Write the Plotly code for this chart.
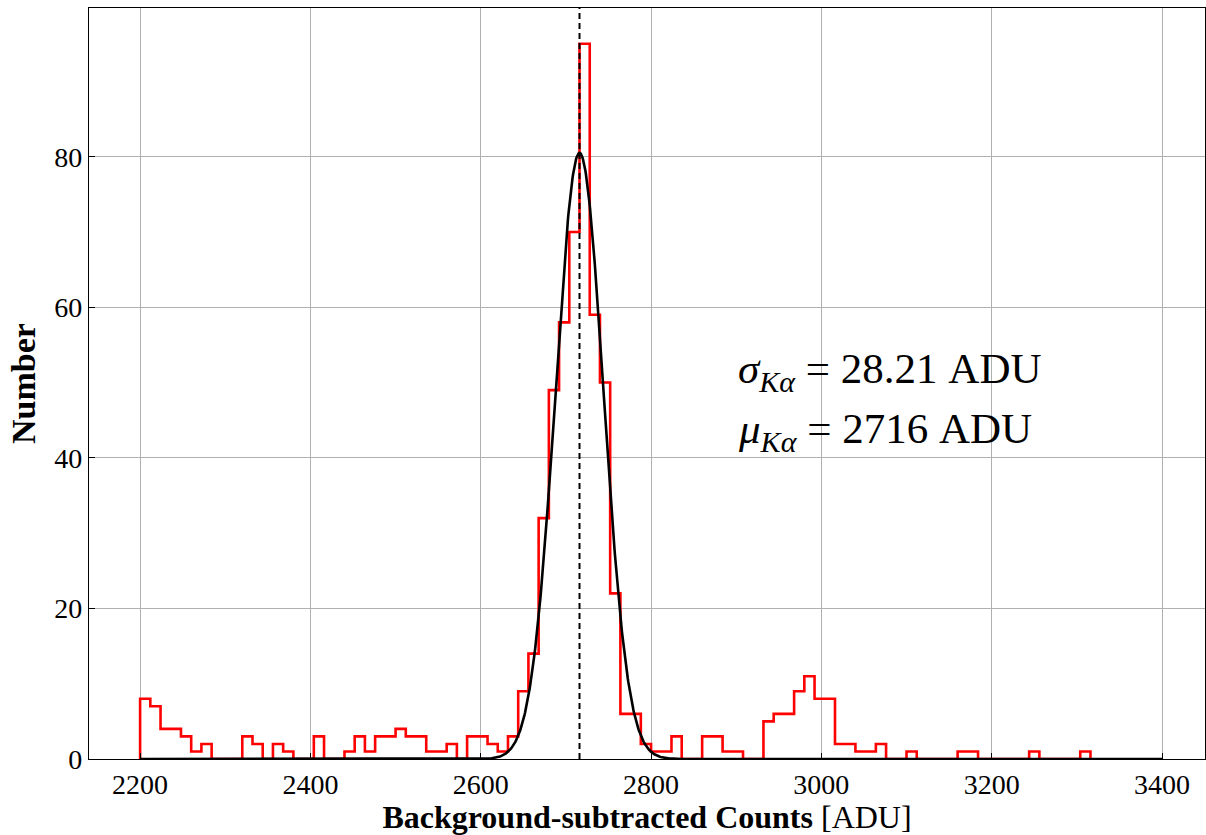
import numpy as np
import plotly.graph_objects as go

# Histogram: 93 bins of 12 ADU starting at 2200 ADU
bin_start = 2200
bin_width = 12
counts = [8, 7, 4, 4, 3, 1, 2, 0, 0, 0,
          3, 2, 0, 2, 1, 0, 0, 3, 0, 0,
          1, 3, 1, 3, 3, 4, 3, 3, 1, 1,
          2, 0, 3, 3, 2, 1, 3, 9, 14, 32,
          49, 58, 70, 95, 59, 50, 22, 6, 6, 2,
          1, 1, 3, 0, 0, 3, 3, 1, 1, 0,
          0, 5, 6, 6, 9, 11, 8, 8, 2, 2,
          1, 1, 2, 0, 0, 1, 0, 0, 0, 0,
          1, 1, 0, 0, 0, 0, 0, 1, 0, 0,
          0, 0, 1]

# Gaussian fit parameters
fit_amp = 80.5
fit_mu = 2716
fit_sigma = 28.21
fit_x_min, fit_x_max = 2200, 3400

xticks = [2200, 2400, 2600, 2800, 3000, 3200, 3400]
yticks = [0, 20, 40, 60, 80]

edges = [bin_start + i * bin_width for i in range(len(counts) + 1)]
step_x = [edges[0]] + edges
step_y = [0] + counts + [0]

fx = np.linspace(fit_x_min, fit_x_max, 2000)
fy = fit_amp * np.exp(-0.5 * ((fx - fit_mu) / fit_sigma) ** 2)

FONT = "Liberation Serif"

fig = go.Figure()
fig.add_trace(go.Scatter(x=step_x, y=step_y, mode="lines",
                         line=dict(color="#ff0000", width=2.6, shape="hv"),
                         showlegend=False, hoverinfo="skip"))
fig.add_trace(go.Scatter(x=fx, y=fy, mode="lines",
                         line=dict(color="black", width=2.6),
                         showlegend=False, hoverinfo="skip"))
fig.add_trace(go.Scatter(x=[fit_mu, fit_mu], y=[0, 99.75], mode="lines",
                         line=dict(color="black", width=2, dash="6px,4px"),
                         showlegend=False, hoverinfo="skip"))

fig.add_annotation(x=2900, y=51.4, xref="x", yref="y", xanchor="left", yanchor="middle",
                   text="<i>σ</i><sub><i>Kα</i></sub> = %.2f ADU" % fit_sigma,
                   showarrow=False, font=dict(family=FONT, size=43, color="black"))
fig.add_annotation(x=2900, y=43.4, xref="x", yref="y", xanchor="left", yanchor="middle",
                   text="<i>μ</i><sub><i>Kα</i></sub> = %d ADU" % fit_mu,
                   showarrow=False, font=dict(family=FONT, size=43, color="black"))

fig.update_layout(
    width=1206, height=835,
    margin=dict(l=89, r=1, t=8, b=76),
    plot_bgcolor="white", paper_bgcolor="white",
    font=dict(family=FONT, size=28, color="black"),
    xaxis=dict(range=[2140, 3450.5], tickvals=xticks, ticktext=[str(t) for t in xticks],
               showgrid=True, gridcolor="#b0b0b0", gridwidth=1,
               showline=True, linecolor="black", linewidth=1.2, mirror=True,
               ticks="inside", ticklen=6, tickcolor="black", zeroline=False,
               tickfont=dict(family=FONT, size=28),
               title=dict(text="<b>Background-subtracted Counts</b> [ADU]",
                          font=dict(family=FONT, size=32), standoff=6)),
    yaxis=dict(range=[0, 99.75], tickvals=yticks, ticktext=[str(t) for t in yticks],
               showgrid=True, gridcolor="#b0b0b0", gridwidth=1,
               showline=True, linecolor="black", linewidth=1.2, mirror=True,
               ticks="inside", ticklen=6, tickcolor="black", zeroline=False,
               tickfont=dict(family=FONT, size=28),
               title=dict(text="<b>Number</b>", font=dict(family=FONT, size=34), standoff=8)),
)

fig.write_html("out.html")
